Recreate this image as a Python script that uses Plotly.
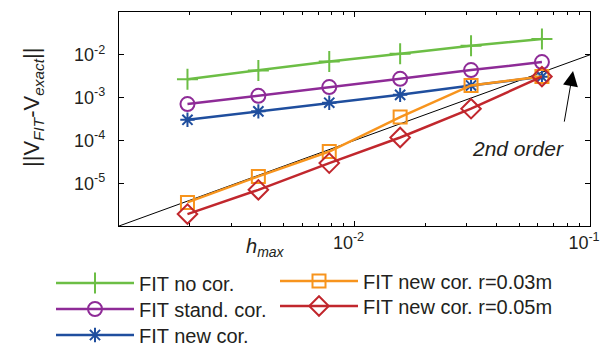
import plotly.graph_objects as go

h = [1/512, 1/256, 1/128, 1/64, 1/32, 1/16]
err_no_cor = [2.7e-3, 4.3e-3, 7.0e-3, 1.06e-2, 1.63e-2, 2.33e-2]
err_stand_cor = [7.05e-4, 1.1e-3, 1.76e-3, 2.75e-3, 4.4e-3, 6.75e-3]
err_new_cor = [3.03e-4, 4.77e-4, 7.6e-4, 1.16e-3, 1.92e-3, 3.06e-3]
err_new_r003 = [3.56e-6, 1.44e-5, 5.5e-5, 3.5e-4, 1.92e-3, 3.1e-3]
err_new_r005 = [1.9e-6, 7.0e-6, 2.95e-5, 1.17e-4, 5.5e-4, 3.1e-3]
ref_h = [1e-3, 1e-1]
ref_err = [1e-6, 1e-2]

x_tickvals = [1e-2, 1e-1]
x_ticktext = ["10<sup>-2</sup>", "10<sup>-1</sup>"]
y_tickvals = [1e-5, 1e-4, 1e-3, 1e-2]
y_ticktext = ["10<sup>-5</sup>", "10<sup>-4</sup>", "10<sup>-3</sup>", "10<sup>-2</sup>"]
x_minor = [k * 1e-3 for k in range(2, 10)] + [k * 1e-2 for k in range(2, 10)]

FONT = "Liberation Sans, Arial, sans-serif"
TXT = "#231F20"
L, R, T, B = 111, 32, 4, 134
PW, PH = 614 - L - R, 352 - T - B


def px(xp):
    return (xp - L) / PW


def py(yp):
    return 1 - (yp - T) / PH


# name, values, colour, symbol, size, legend id, legend left px, legend row centre px
series = [
    ("FIT no cor.", err_no_cor, "#6CBE45", "cross-thin-open", 15, "legend", 43, 275),
    ("FIT stand. cor.", err_stand_cor, "#8E2B97", "circle-open", 14, "legend2", 43, 301),
    ("FIT new cor.", err_new_cor, "#1F4E9E", "asterisk-open", 12, "legend3", 43, 327),
    ("FIT new cor. r=0.03m", err_new_r003, "#F7941D", "square-open", 13, "legend4", 267, 273),
    ("FIT new cor. r=0.05m", err_new_r005, "#C1272D", "diamond-open", 15, "legend5", 267, 298),
]

fig = go.Figure()
fig.add_trace(go.Scatter(x=ref_h, y=ref_err, mode="lines",
                         line=dict(color="black", width=1), showlegend=False))
legends = {}
for name, ys, col, sym, sz, lg, lx, ly in series:
    fig.add_trace(go.Scatter(
        x=h, y=ys, mode="lines+markers", name=name,
        line=dict(color=col, width=2.5),
        marker=dict(symbol=sym, size=sz, color=col, line=dict(color=col, width=2)),
        legend=lg,
    ))
    legends[lg] = dict(
        font=dict(family=FONT, size=20, color=TXT), bgcolor="rgba(0,0,0,0)",
        xref="paper", yref="paper", xanchor="left", yanchor="middle",
        x=px(lx), y=py(ly), itemwidth=78,
    )

axis_common = dict(
    type="log", showgrid=False, zeroline=False, showline=True, linecolor="black",
    linewidth=1.2, mirror="ticks", ticks="inside", ticklen=5, tickcolor="black",
    tickfont=dict(family=FONT, size=18, color=TXT),
)
fig.update_xaxes(range=[-3, -1], tickvals=x_tickvals, ticktext=x_ticktext,
                 minor=dict(tickvals=x_minor, ticks="inside", ticklen=3, tickcolor="black"),
                 ticklabelshift=-6, **axis_common)
fig.update_yaxes(range=[-6, -1], tickvals=y_tickvals, ticktext=y_ticktext,
                 ticklabelstandoff=9, **axis_common)

fig.update_layout(
    width=614, height=352,
    margin=dict(l=L, r=R, t=T, b=B, autoexpand=False),
    plot_bgcolor="white", paper_bgcolor="white",
    font=dict(family=FONT, color=TXT),
    annotations=[
        dict(text="||V<sub><i>FIT</i></sub>-V<sub><i>exact</i></sub>||", textangle=-90,
             xref="paper", yref="paper", x=px(25), y=py(100), xanchor="center",
             yanchor="middle", showarrow=False,
             font=dict(family=FONT, size=22, color=TXT)),
        dict(text="<i>h<sub>max</sub></i>", xref="paper", yref="paper",
             x=px(257), y=py(240), xanchor="center", yanchor="middle", showarrow=False,
             font=dict(family=FONT, size=20, color=TXT)),
        dict(text="<i>2nd order</i>", xref="paper", yref="paper",
             x=px(510), y=py(140), xanchor="center", yanchor="middle", showarrow=False,
             font=dict(family=FONT, size=21, color=TXT)),
        dict(text="", x=-1.072, y=-2.381, xref="x", yref="y", ax=-9, ay=52,
             showarrow=True, arrowhead=2, arrowsize=3, arrowwidth=1, arrowcolor="black"),
    ],
    **legends,
)
fig.write_html("out.html")
